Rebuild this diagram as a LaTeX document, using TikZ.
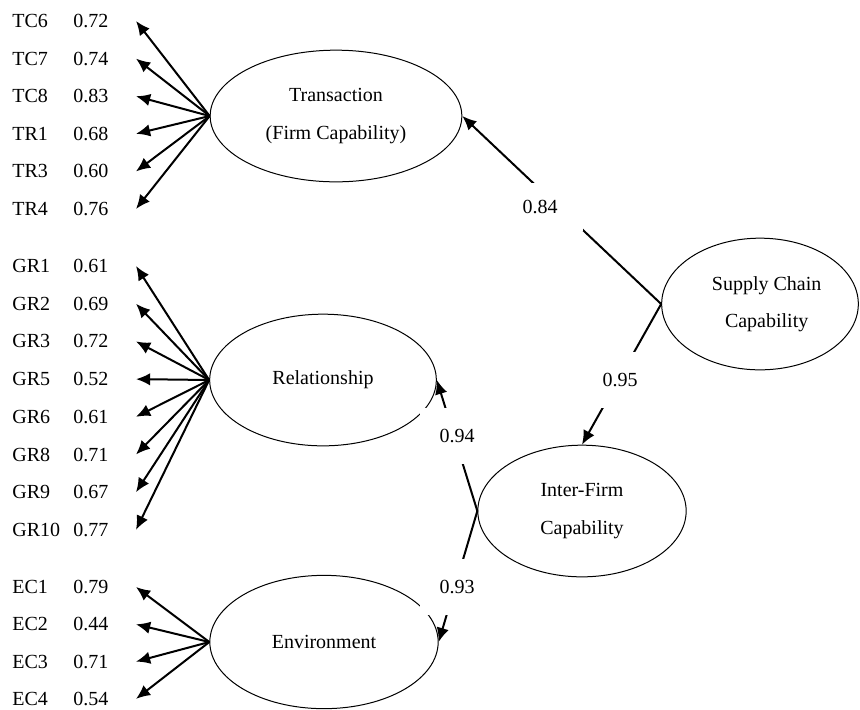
\documentclass[tikz,border=0pt]{standalone}
\usepackage{fontspec}
\setmainfont{Liberation Serif}
\usetikzlibrary{positioning,shapes.geometric,arrows.meta}

\begin{document}
\begin{tikzpicture}[
                x=0.6pt, y=-0.6pt,
                font=\fontsize{12}{14}\selectfont,
                latent/.style={draw, ellipse, line width=0.6pt, inner sep=0pt, align=center,
                    font=\fontsize{12}{22.5}\selectfont},
                item/.style={anchor=west, inner sep=0pt},
                arrow/.style={-{Latex[length=8.5pt,width=7.5pt]}, draw=black, line width=1.2pt},
                coef/.style={fill=white, inner sep=0pt, minimum width=45pt, minimum height=34pt}
            ]
                \useasboundingbox (0,0) rectangle (860,709);

                % latent variables
                \node[latent, minimum width=151pt, minimum height=79pt] (trans) at (336,116) {Transaction\\(Firm Capability)};
                \node[latent, minimum width=136pt, minimum height=79pt] (rel) at (323,380) {Relationship};
                \node[latent, minimum width=137pt, minimum height=80pt] (env) at (324,642) {Environment};
                \node[latent, minimum width=125pt, minimum height=79pt] (inter) at (582,511) {Inter-Firm\\Capability};
                \node[latent, minimum width=118pt, minimum height=79pt] (scc) at (760,304) {\hspace*{8pt}Supply Chain\\\hspace*{8pt}Capability};

                % indicators
                \foreach \nm/\val [count=\i from 0] in {TC6/0.72,TC7/0.74,TC8/0.83,TR1/0.68,TR3/0.60,TR4/0.76} {
                    \node[item] (\nm) at (12,{21+37.6*\i}) {\nm};
                    \node[item] (\nm-v) at (73,{21+37.6*\i}) {\val};
                    \coordinate (\nm-tip) at (136,{21+37.6*\i});
                    \draw[arrow] (trans.west) -- (\nm-tip);
                }
                \foreach \nm/\val [count=\i from 0] in {GR1/0.61,GR2/0.69,GR3/0.72,GR5/0.52,GR6/0.61,GR8/0.71,GR9/0.67,GR10/0.77} {
                    \node[item] (\nm) at (12,{266+37.7*\i}) {\nm};
                    \node[item] (\nm-v) at (73,{266+37.7*\i}) {\val};
                    \coordinate (\nm-tip) at (136,{266+37.7*\i});
                    \draw[arrow] (rel.west) -- (\nm-tip);
                }
                \foreach \nm/\val [count=\i from 0] in {EC1/0.79,EC2/0.44,EC3/0.71,EC4/0.54} {
                    \node[item] (\nm) at (12,{587+37.3*\i}) {\nm};
                    \node[item] (\nm-v) at (73,{587+37.3*\i}) {\val};
                    \coordinate (\nm-tip) at (136,{587+37.3*\i});
                    \draw[arrow] (env.west) -- (\nm-tip);
                }

                % structural paths
                \draw[arrow] (scc.west) -- (trans.east);
                \draw[arrow] (scc.west) -- (inter.north);
                \draw[arrow] (inter.west) -- (rel.east);
                \draw[arrow] (inter.west) -- (env.east);

                % path coefficients
                \node[coef, minimum width=52pt, minimum height=29pt] (c84) at (540,207) {0.84};
                \node[coef] (c95) at (620,380) {0.95};
                \node[coef] (c94) at (457,436) {0.94};
                \node[coef] (c93) at (457,587) {0.93};
            \end{tikzpicture}
\end{document}
